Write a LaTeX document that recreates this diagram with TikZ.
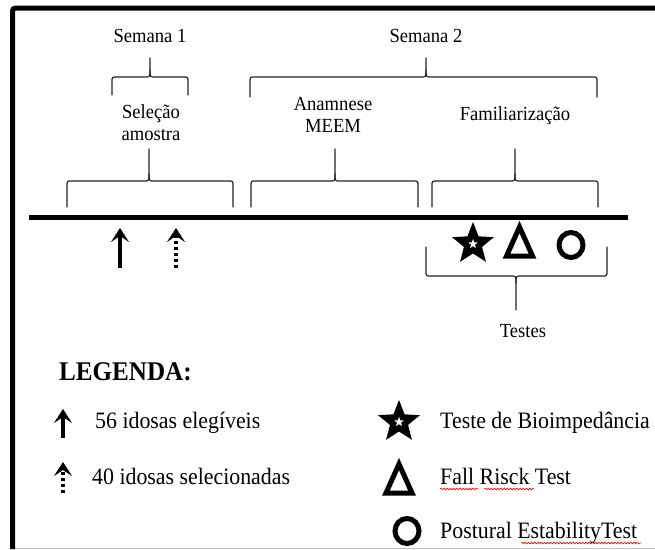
\documentclass[tikz,border=0pt]{standalone}
\usepackage{fontspec}
\setmainfont[FakeStretch=0.93]{Liberation Serif}
\usetikzlibrary{arrows.meta,decorations.pathmorphing}
\newcommand\bracedn[6]{% L R T tiptop H E : tip up, ends down
  \draw[brc] (#1,#6) -- (#1,#5+5) .. controls (#1,#5) .. (#1+5,#5) -- (#3-5,#5) .. controls (#3,#5) .. (#3,#5-7) -- (#3,#4);
  \draw[brc] (#2,#6) -- (#2,#5+5) .. controls (#2,#5) .. (#2-5,#5) -- (#3+5,#5) .. controls (#3,#5) .. (#3,#5-7);}
\newcommand\braceup[6]{% L R T tipbottom H E : ends up, tip down
  \draw[brc] (#1,#6) -- (#1,#5-5) .. controls (#1,#5) .. (#1+5,#5) -- (#3-5,#5) .. controls (#3,#5) .. (#3,#5+7) -- (#3,#4);
  \draw[brc] (#2,#6) -- (#2,#5-5) .. controls (#2,#5) .. (#2-5,#5) -- (#3+5,#5) .. controls (#3,#5) .. (#3,#5+7);}
\begin{document}
\begin{tikzpicture}[x=1pt,y=-1pt,
  lbl/.style={font=\fontsize{20}{22}\selectfont, inner sep=0, align=center},
  leg/.style={font=\fontsize{23.5}{26}\selectfont, inner sep=0, anchor=base west},
  brc/.style={line width=1.2pt, black!85, line cap=round},
  uparrow/.style={line width=3.5pt, -{Stealth[length=14pt,width=18pt,inset=6pt]}},
  dotarrow/.style={uparrow, dash pattern=on 3pt off 3pt},
  wavy/.style={red, line width=0.6pt, decorate, decoration={snake, amplitude=0.9pt, segment length=3.2pt}},
  starsym/.pic={
    \fill[black] (-90:22) \foreach \k in {1,...,9} {-- (-90+\k*36:{ifthenelse(mod(\k,2)==0,22,9.5)})} -- cycle;
    \fill[white] (-90:5) \foreach \k in {1,...,9} {-- (-90+\k*36:{ifthenelse(mod(\k,2)==0,5,2.1)})} -- cycle;},
  trisym/.pic={\draw[line width=5pt, line join=miter] (0,-14) -- (13,15) -- (-13,15) -- cycle;},
  circsym/.pic={\draw[line width=5pt] (0,0) ellipse [x radius=12, y radius=12.5];}
]
\useasboundingbox (0,0) rectangle (655,549);
\fill[white] (0,0) rectangle (655,549);
% frame
\draw[line width=5pt, rounded corners=3pt] (12.5,549) -- (12.5,8) -- (655,8);
\draw[black!25, line width=0.8pt] (15,548) -- (655,548);
% top labels
\node[lbl, anchor=base] (s1) at (150,42) {Semana 1};
\node[lbl, anchor=base] (s2) at (426,42) {Semana 2};
\bracedn{112}{188}{150}{58}{77}{95}
\bracedn{250}{597}{426}{58}{77}{97}
\node[lbl, anchor=north] (sel) at (151,104) {Seleção\\amostra};
\node[lbl, anchor=north] (ana) at (333,97) {Anamnese\\MEEM};
\node[lbl, anchor=base] (fam) at (515,120) {Familiarização};
\bracedn{67}{233}{149}{149}{181}{207}
\bracedn{251}{418}{335}{149}{181}{207}
\bracedn{432}{598}{515}{149}{181}{207}
% timeline
\coordinate (t1) at (29,217);
\coordinate (t2) at (628,217);
\draw[line width=5pt] (t1) -- (t2);
\coordinate (a1s) at (120,268); \coordinate (a1e) at (120,228);
\coordinate (a2s) at (176,268); \coordinate (a2e) at (176,228);
\draw[uparrow] (a1s) -- (a1e);
\draw[dotarrow] (a2s) -- (a2e);
\pic (st1) at (473,244) {starsym};
\pic (tr1) at (519.5,241) {trisym};
\pic (ci1) at (571,245) {circsym};
\braceup{426}{607}{516}{310}{276}{247}
\node[lbl, anchor=base] (tes) at (523,337) {Testes};
% legend
\node[anchor=base west, inner sep=0, font=\fontsize{27}{29}\selectfont\bfseries] (leg) at (59,380) {LEGENDA:};
\coordinate (l1s) at (63,438); \coordinate (l1e) at (63,409);
\coordinate (l2s) at (63,493); \coordinate (l2e) at (63,462);
\draw[uparrow] (l1s) -- (l1e);
\draw[dotarrow] (l2s) -- (l2e);
\node[leg] (t56) at (95,428) {56 idosas elegíveis};
\node[leg] (t40) at (92,484) {40 idosas selecionadas};
\pic (st2) at (399,422) {starsym};
\pic (tr2) at (399,478) {trisym};
\pic (ci2) at (407,531) {circsym};
\node[leg] (tbio) at (440,428) {Teste de Bioimpedância};
\node[leg] (tfall) at (440,484) {Fall Risck Test};
\node[leg] (tpos) at (440,538) {Postural EstabilityTest};
\draw[wavy] (440,489) -- (478,489);
\draw[wavy] (484,489) -- (534,489);
\draw[wavy] (521,543) -- (641,543);
\end{tikzpicture}
\end{document}
